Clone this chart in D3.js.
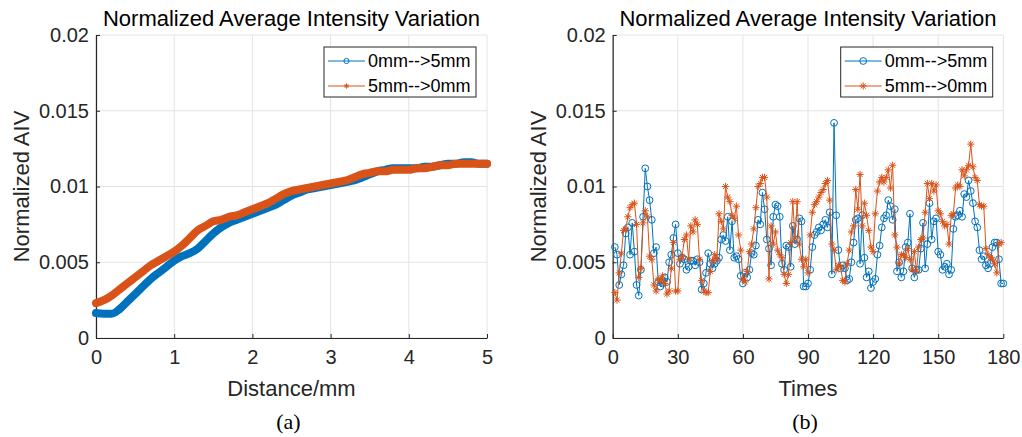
<!DOCTYPE html>
<html>
<head>
<meta charset="utf-8">
<script src="https://cdn.jsdelivr.net/npm/d3@7"></script>
<style>
body { margin: 0; background: #fff; }
svg { display: block; font-family: "Liberation Sans", Arial, sans-serif; }
</style>
</head>
<body>
<div class="chart"></div>
<script>

const FRAME_WIDTH = 1022;
const FRAME_HEIGHT = 437;

const BLUE = "#0072BD";
const ORANGE = "#D95319";
const AXIS_COLOR = "#262626";
const GRID_COLOR = "#e3e3e3";

// ---- data ----
const TITLE = "Normalized Average Intensity Variation";
const Y_LABEL = "Normalized AIV";
const SERIES_NAMES = ["0mm-->5mm", "5mm-->0mm"];
const Y_TICKS = [0, 0.005, 0.01, 0.015, 0.02];

// panel (a)
const DISTANCE = [0, 0.1, 0.2, 0.3, 0.4, 0.5, 0.6, 0.7, 0.8, 0.9,
                  1, 1.1, 1.2, 1.3, 1.4, 1.5, 1.6, 1.7, 1.8, 1.9,
                  2, 2.1, 2.2, 2.3, 2.4, 2.5, 2.6, 2.7, 2.8, 2.9,
                  3, 3.1, 3.2, 3.3, 3.4, 3.5, 3.6, 3.7, 3.8, 3.9,
                  4, 4.1, 4.2, 4.3, 4.4, 4.5, 4.6, 4.7, 4.8, 4.9, 5];
const A_FORWARD = [0.00165, 0.0016, 0.0016, 0.0019, 0.0024, 0.0029, 0.0034, 0.0039, 0.0043, 0.0047,
                   0.0051, 0.0054, 0.0056, 0.0059, 0.0064, 0.0069, 0.0073, 0.0076, 0.0078, 0.008,
                   0.0082, 0.0084, 0.0086, 0.0088, 0.0091, 0.0094, 0.0096, 0.0098, 0.0099, 0.01,
                   0.0101, 0.0102, 0.0103, 0.0104, 0.0106, 0.0108, 0.011, 0.0111, 0.0112, 0.0112,
                   0.0112, 0.0112, 0.0113, 0.0113, 0.0114, 0.0115, 0.0115, 0.0116, 0.0116, 0.0115, 0.0115];
const A_BACKWARD = [0.0023, 0.0025, 0.0028, 0.0032, 0.0036, 0.004, 0.0044, 0.0048, 0.0051, 0.0054,
                    0.0057, 0.0061, 0.0066, 0.0071, 0.0074, 0.0077, 0.0078, 0.008, 0.0081, 0.0083,
                    0.0085, 0.0087, 0.0089, 0.0092, 0.0095, 0.0097, 0.0098, 0.0099, 0.01, 0.0101,
                    0.0102, 0.0103, 0.0104, 0.0106, 0.0108, 0.0109, 0.011, 0.011, 0.0111, 0.0111,
                    0.0111, 0.0112, 0.0112, 0.0113, 0.0114, 0.0114, 0.0115, 0.0115, 0.0115, 0.0115, 0.0115];
const A_X_TICKS = [0, 1, 2, 3, 4, 5];

// panel (b): one value per time, starting at time 1
const B_FORWARD = [0.006, 0.0055, 0.0035, 0.0042, 0.0048, 0.0069, 0.0073, 0.0055, 0.0076, 0.0057,
                   0.0035, 0.0028, 0.0045, 0.008, 0.0112, 0.01, 0.0091, 0.0078, 0.0056, 0.006,
                   0.0037, 0.0034, 0.0036, 0.004, 0.0037, 0.005, 0.0055, 0.0066, 0.0075, 0.0056,
                   0.0049, 0.0053, 0.0052, 0.0045, 0.0047, 0.0051, 0.0051, 0.0048, 0.0052, 0.005,
                   0.0032, 0.0036, 0.0043, 0.0056, 0.0049, 0.0046, 0.0049, 0.0051, 0.0053, 0.0065,
                   0.0068, 0.0064, 0.008, 0.0058, 0.0077, 0.0053, 0.0054, 0.0052, 0.0041, 0.0036,
                   0.0043, 0.004, 0.0045, 0.0056, 0.0055, 0.0061, 0.0078, 0.0075, 0.0096, 0.0085,
                   0.0065, 0.0059, 0.0048, 0.008, 0.0088, 0.0087, 0.008, 0.0049, 0.0045, 0.0061,
                   0.006, 0.0047, 0.0074, 0.0062, 0.0065, 0.0079, 0.0077, 0.0034, 0.0034, 0.0036,
                   0.0045, 0.006, 0.0068, 0.007, 0.0073, 0.0071, 0.0075, 0.0078, 0.0073, 0.0083,
                   0.0042, 0.0142, 0.0081, 0.0058, 0.0046, 0.0048, 0.0046, 0.0038, 0.0039, 0.005,
                   0.0063, 0.0078, 0.0079, 0.0049, 0.0081, 0.0053, 0.004, 0.0044, 0.0033, 0.0037,
                   0.0039, 0.0055, 0.0061, 0.0073, 0.0079, 0.0081, 0.0091, 0.0087, 0.0078, 0.0085,
                   0.0044, 0.005, 0.004, 0.0044, 0.006, 0.0063, 0.0082, 0.0046, 0.004, 0.0045,
                   0.0045, 0.0059, 0.0076, 0.0046, 0.0062, 0.0089, 0.0065, 0.0077, 0.0079, 0.0057,
                   0.0055, 0.0045, 0.0047, 0.0049, 0.0042, 0.0045, 0.0072, 0.008, 0.0081, 0.0084,
                   0.008, 0.0095, 0.0093, 0.0104, 0.0097, 0.0089, 0.0077, 0.0073, 0.0058, 0.0052,
                   0.0054, 0.0048, 0.0046, 0.0049, 0.006, 0.0063, 0.0063, 0.0052, 0.0036, 0.0036];
const B_BACKWARD = [0.003, 0.0025, 0.0043, 0.0056, 0.0071, 0.0072, 0.008, 0.0086, 0.0088, 0.0089,
                    0.0075, 0.004, 0.0046, 0.0076, 0.0084, 0.008, 0.0054, 0.0052, 0.0035, 0.0031,
                    0.0039, 0.0038, 0.0041, 0.0036, 0.0029, 0.0031, 0.0046, 0.0063, 0.0031, 0.0031,
                    0.0052, 0.0054, 0.0065, 0.0068, 0.0052, 0.0074, 0.007, 0.0078, 0.0075, 0.0052,
                    0.0038, 0.0031, 0.003, 0.003, 0.0044, 0.0051, 0.0055, 0.0052, 0.0082, 0.0077,
                    0.0072, 0.01, 0.0093, 0.009, 0.0081, 0.0079, 0.0087, 0.0068, 0.0058, 0.0039,
                    0.0037, 0.0044, 0.0057, 0.0062, 0.0072, 0.0086, 0.01, 0.0102, 0.0106, 0.0106,
                    0.0093, 0.0039, 0.0074, 0.0062, 0.007, 0.0058, 0.0055, 0.0053, 0.0042, 0.0036,
                    0.0042, 0.0063, 0.009, 0.0066, 0.009, 0.0062, 0.0052, 0.0047, 0.0052, 0.0043,
                    0.0068, 0.0083, 0.0088, 0.009, 0.0093, 0.0096, 0.0098, 0.0102, 0.0104, 0.0091,
                    0.0062, 0.0058, 0.0045, 0.0048, 0.0047, 0.0038, 0.0037, 0.0049, 0.0058, 0.007,
                    0.0074, 0.0098, 0.0085, 0.0108, 0.0074, 0.0089, 0.0081, 0.0071, 0.006, 0.0057,
                    0.0082, 0.0097, 0.0103, 0.0106, 0.0103, 0.0106, 0.0111, 0.0099, 0.0114, 0.0068,
                    0.006, 0.0049, 0.0055, 0.0055, 0.0053, 0.0059, 0.0052, 0.0045, 0.0057, 0.0044,
                    0.006, 0.0065, 0.0066, 0.0083, 0.0102, 0.0092, 0.0102, 0.0097, 0.0101, 0.0084,
                    0.0082, 0.0077, 0.0074, 0.0075, 0.0062, 0.0081, 0.0082, 0.0099, 0.0101, 0.01,
                    0.0111, 0.0107, 0.0111, 0.0114, 0.0128, 0.0113, 0.0106, 0.0104, 0.0088, 0.0087,
                    0.0087, 0.0059, 0.0055, 0.0053, 0.0052, 0.0049, 0.0043, 0.0062, 0.0063];
const B_X_TICKS = [0, 30, 60, 90, 120, 150, 180];


const FRAME = d3.select(".chart")
                .append("svg")
                .attr("width", FRAME_WIDTH)
                .attr("height", FRAME_HEIGHT);

// MATLAB style '*' marker: a plus and a cross
function asteriskPath(s) {
    const d = s * 0.707;
    return "M" + (-s) + ",0L" + s + ",0M0," + (-s) + "L0," + s +
           "M" + (-d) + "," + (-d) + "L" + d + "," + d +
           "M" + (-d) + "," + d + "L" + d + "," + (-d);
}

function drawPanel(opt) {
    const g = FRAME.append("g");

    const X_SCALE = d3.scaleLinear().domain(opt.xDomain).range([opt.left, opt.right]);
    const Y_SCALE = d3.scaleLinear().domain([0, 0.02]).range([opt.bottom, opt.top]);

    // grid
    g.append("g").selectAll("line").data(opt.xTicks).enter().append("line")
        .attr("x1", d => X_SCALE(d)).attr("x2", d => X_SCALE(d))
        .attr("y1", opt.top).attr("y2", opt.bottom)
        .attr("stroke", GRID_COLOR).attr("stroke-width", 1);
    g.append("g").selectAll("line").data(Y_TICKS).enter().append("line")
        .attr("x1", opt.left).attr("x2", opt.right)
        .attr("y1", d => Y_SCALE(d)).attr("y2", d => Y_SCALE(d))
        .attr("stroke", GRID_COLOR).attr("stroke-width", 1);

    // axes (ticks pointing inward)
    const xAxis = g.append("g")
        .attr("transform", "translate(0," + opt.bottom + ")")
        .call(d3.axisBottom(X_SCALE).tickValues(opt.xTicks).tickSizeInner(-4).tickSizeOuter(0).tickPadding(12)
              .tickFormat(d => String(d)));
    const yAxis = g.append("g")
        .attr("transform", "translate(" + opt.left + ",0)")
        .call(d3.axisLeft(Y_SCALE).tickValues(Y_TICKS).tickSizeInner(-4).tickSizeOuter(0).tickPadding(7)
              .tickFormat(d => d === 0 ? "0" : String(+d.toFixed(3))));
    [xAxis, yAxis].forEach(a => {
        a.select(".domain").attr("stroke", AXIS_COLOR).attr("stroke-width", 1.2);
        a.selectAll(".tick line").attr("stroke", AXIS_COLOR);
        a.selectAll(".tick text").attr("fill", AXIS_COLOR)
            .attr("font-size", "20px").attr("font-family", "Liberation Sans, Arial, sans-serif");
    });
    xAxis.selectAll(".tick text").attr("dy", "0.71em");

    const plot = g.append("g");
    const line = d3.line().x(d => X_SCALE(d[0])).y(d => Y_SCALE(d[1]));

    opt.series.forEach(s => {
        const pts = s.values.map((v, i) => [s.x(i), v]);
        if (opt.dense) {
            plot.append("path").datum(pts)
                .attr("d", line.curve(d3.curveMonotoneX))
                .attr("fill", "none").attr("stroke", s.color)
                .attr("stroke-width", 8).attr("stroke-linecap", "round")
                .attr("stroke-linejoin", "round");
        } else {
            plot.append("path").datum(pts)
                .attr("d", line.curve(d3.curveLinear))
                .attr("fill", "none").attr("stroke", s.color).attr("stroke-width", 1);
            if (s.marker === "o") {
                plot.append("g").selectAll("circle").data(pts).enter().append("circle")
                    .attr("cx", d => X_SCALE(d[0])).attr("cy", d => Y_SCALE(d[1]))
                    .attr("r", 3.4).attr("fill", "none")
                    .attr("stroke", s.color).attr("stroke-width", 1);
            } else {
                plot.append("g").selectAll("path").data(pts).enter().append("path")
                    .attr("transform", d => "translate(" + X_SCALE(d[0]) + "," + Y_SCALE(d[1]) + ")")
                    .attr("d", asteriskPath(3.6))
                    .attr("fill", "none").attr("stroke", s.color).attr("stroke-width", 1);
            }
        }
    });

    // title and labels
    g.append("text")
        .attr("x", (opt.left + opt.right) / 2).attr("y", 26)
        .attr("text-anchor", "middle").attr("font-size", "22px").attr("fill", "#000")
        .text(TITLE);
    g.append("text")
        .attr("x", (opt.left + opt.right) / 2).attr("y", 396)
        .attr("text-anchor", "middle").attr("font-size", "22px").attr("fill", AXIS_COLOR)
        .text(opt.xLabel);
    g.append("text")
        .attr("transform", "translate(" + (opt.left - 75) + "," + ((opt.top + opt.bottom) / 2) + ") rotate(-90)")
        .attr("dy", "0.36em")
        .attr("text-anchor", "middle").attr("font-size", "22px").attr("fill", AXIS_COLOR)
        .text(Y_LABEL);
    g.append("text")
        .attr("x", (opt.left + opt.right) / 2 - 3).attr("y", 429)
        .attr("text-anchor", "middle").attr("font-size", "22px")
        .attr("font-family", "Liberation Serif, Times New Roman, serif").attr("fill", "#000")
        .text(opt.caption);

    // legend
    const lg = g.append("g").attr("transform", "translate(" + opt.legendX + "," + opt.top + ")");
    lg.append("rect").attr("x", 0).attr("y", 12).attr("width", 152).attr("height", 50)
        .attr("fill", "#fff").attr("stroke", AXIS_COLOR).attr("stroke-width", 1);
    opt.series.forEach((s, i) => {
        const yy = 26 + i * 25;
        lg.append("line").attr("x1", 4).attr("x2", 41).attr("y1", yy).attr("y2", yy)
            .attr("stroke", s.color).attr("stroke-width", 1);
        if (s.marker === "o") {
            lg.append("circle").attr("cx", 22.5).attr("cy", yy).attr("r", opt.dense ? 2.6 : 3.4)
                .attr("fill", "none").attr("stroke", s.color).attr("stroke-width", 1);
        } else {
            lg.append("path").attr("transform", "translate(22.5," + yy + ")")
                .attr("d", asteriskPath(opt.dense ? 2.6 : 3.6))
                .attr("fill", "none").attr("stroke", s.color).attr("stroke-width", 1);
        }
        lg.append("text").attr("x", 44).attr("y", yy).attr("dy", "0.36em")
            .attr("font-size", "18px").attr("fill", "#000")
            .text(SERIES_NAMES[i]);
    });
}

drawPanel({
    left: 96, right: 487, top: 35, bottom: 338,
    xDomain: [0, 5], xTicks: A_X_TICKS, xLabel: "Distance/mm", caption: "(a)",
    legendX: 324, dense: true,
    series: [
        {values: A_FORWARD, x: i => DISTANCE[i], color: BLUE, marker: "o"},
        {values: A_BACKWARD, x: i => DISTANCE[i], color: ORANGE, marker: "*"}
    ]
});

drawPanel({
    left: 612.7, right: 1003.3, top: 35, bottom: 338,
    xDomain: [0, 180], xTicks: B_X_TICKS, xLabel: "Times", caption: "(b)",
    legendX: 840.7, dense: false,
    series: [
        {values: B_FORWARD, x: i => i + 1, color: BLUE, marker: "o"},
        {values: B_BACKWARD, x: i => i + 1, color: ORANGE, marker: "*"}
    ]
});

</script>
</body>
</html>
